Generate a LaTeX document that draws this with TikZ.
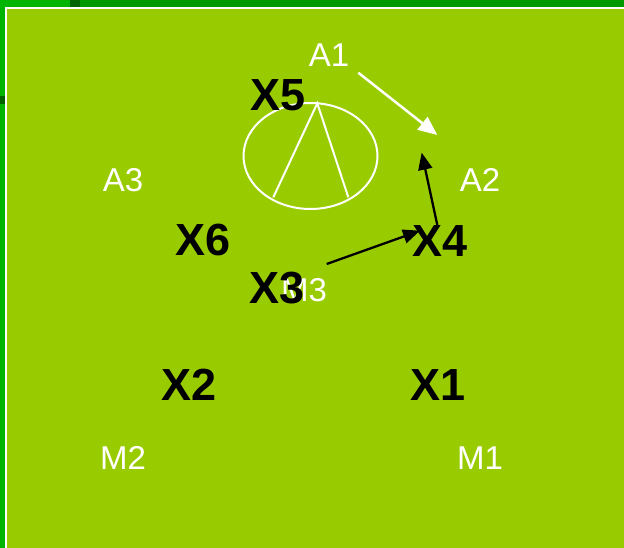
\documentclass[tikz,border=0pt]{standalone}
\usepackage{fontspec}
\setmainfont{Liberation Sans}
\usetikzlibrary{arrows.meta}
\definecolor{lime}{HTML}{99CC00}
\definecolor{bandgreen}{HTML}{009A00}
\definecolor{brightgreen}{HTML}{00B400}
\definecolor{darkgreen}{HTML}{006400}
\tikzset{
  lbl/.style={text=white, inner sep=0pt, font=\fontsize{33}{33}\selectfont},
  xlbl/.style={text=black, inner sep=0pt, font=\fontsize{45}{45}\selectfont\bfseries},
  warrow/.style={draw=white, line width=2.5pt, -{Triangle[length=19pt,width=16pt]}},
  barrow/.style={draw=black, line width=2.3pt, -{Triangle[length=17pt,width=14pt]}},
  wline/.style={draw=white, line width=2pt}
}
\begin{document}
\begin{tikzpicture}[x=1pt,y=-1pt]
\useasboundingbox (0,0) rectangle (624,548);
% frame
\fill[bandgreen] (0,0) rectangle (624,8);
\fill[brightgreen] (0,0) rectangle (70,8);
\fill[darkgreen] (70,0) rectangle (80,8);
\fill[brightgreen] (0,0) rectangle (6,548);
\fill[darkgreen] (0,96) rectangle (6,104);
\fill[white] (5,7) rectangle (624,548);
\fill[lime] (7,9) rectangle (624,548);
% ellipse and lines
\draw[wline] (310.5,156) ellipse [x radius=67, y radius=53];
\coordinate (apex) at (317.3,103.3);
\coordinate (leftfoot) at (273.3,197.3);
\coordinate (rightfoot) at (348.3,197.3);
\draw[wline] (leftfoot) -- (apex) -- (rightfoot);
% labels
\node[lbl] (A1) at (329,55) {A1};
\node[lbl] (A2) at (480,180) {A2};
\node[lbl] (A3) at (123,180) {A3};
\node[lbl] (M1) at (480,458) {M1};
\node[lbl] (M2) at (123,458) {M2};
\node[lbl] (M3) at (304,290.5) {M3};
\node[xlbl] (X5) at (278,95) {X5};
\node[xlbl] (X6) at (203,240) {X6};
\node[xlbl] (X4) at (440.5,241) {X4};
\node[xlbl] (X3) at (277,288) {X3};
\node[xlbl] (X2) at (188.7,385) {X2};
\node[xlbl] (X1) at (438,385) {X1};
% arrows
\coordinate (a1s) at (358.3,72.7);
\coordinate (a1e) at (437.3,135);
\draw[warrow] (a1s) -- (a1e);
\coordinate (x4s) at (437.3,225);
\coordinate (x4e) at (421.7,152.7);
\draw[barrow] (x4s) -- (x4e);
\coordinate (x3s) at (326.7,264);
\coordinate (x3e) at (420,230.7);
\draw[barrow] (x3s) -- (x3e);
\end{tikzpicture}
\end{document}
